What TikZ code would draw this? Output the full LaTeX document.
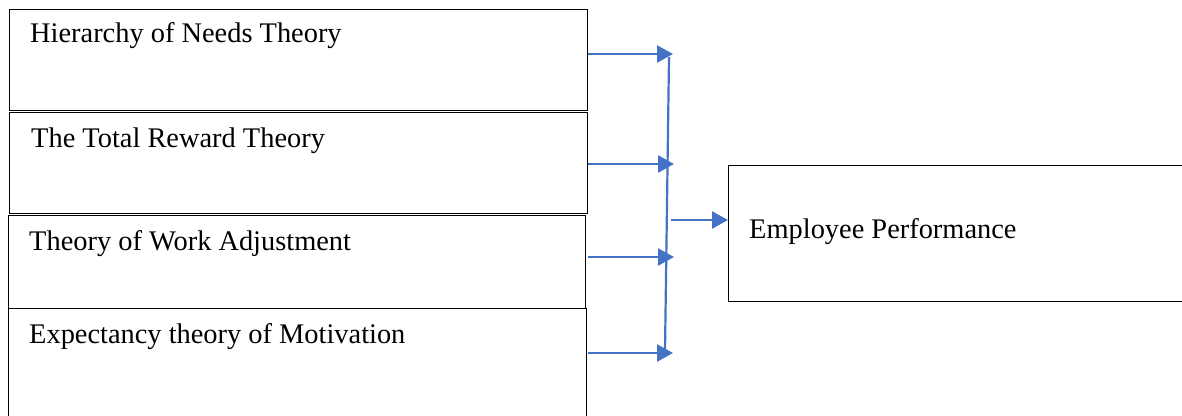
\documentclass[tikz,border=0pt]{standalone}
\usepackage{fontspec}
\setmainfont{Liberation Serif}
\usepackage{xcolor}
\usetikzlibrary{arrows.meta, positioning}

\definecolor{linkblue}{RGB}{68,114,196}

\tikzset{
    theory/.style={draw, line width=1.3pt, anchor=north west, inner sep=0pt, minimum width=578pt},
    lbl/.style={anchor=base west, inner sep=0pt, font=\fontsize{28.4}{31}\selectfont},
    feed/.style={draw=linkblue, line width=2.6pt, -{Triangle[length=16pt, width=17pt]}},
    bus/.style={draw=linkblue, line width=2.2pt}
}

\begin{document}
\begin{tikzpicture}[x=1pt, y=-1pt]
        \useasboundingbox (0,0) rectangle (1182,415);
        \clip (0,0) rectangle (1182,415);

        % theory boxes
        \node[theory, minimum height=101pt] (hier) at (9,9) {};
        \node[theory, minimum height=101pt] (reward) at (9,112) {};
        \node[theory, minimum width=577pt, minimum height=93pt] (work) at (8,215) {};
        \node[theory, minimum height=125pt] (expect) at (8,308) {};
        \node[theory, minimum width=470pt, minimum height=136pt] (perf) at (728,165) {};

        \node[lbl] (hiertext) at (30,42) {Hierarchy of Needs Theory};
        \node[lbl] (rewardtext) at (31,147) {The Total Reward Theory};
        \node[lbl] (worktext) at (29,250) {Theory of Work Adjustment};
        \node[lbl] (expecttext) at (29,343) {Expectancy theory of Motivation};
        \node[lbl] (perftext) at (749,238) {Employee Performance};

        % arrows into the bus
        \coordinate (in1) at (673,54);
        \coordinate (in2) at (674,164);
        \coordinate (in3) at (674,257);
        \coordinate (in4) at (673,353);
        \coordinate (bustop) at (669,57);
        \coordinate (busbot) at (665,351);
        \coordinate (busout) at (671,220);

        \draw[feed] (hier.east |- in1) -- (in1);
        \draw[feed] (reward.east |- in2) -- (in2);
        \draw[feed] (reward.east |- in3) -- (in3);
        \draw[feed] (reward.east |- in4) -- (in4);
        \draw[bus] (bustop) -- (busbot);
        \draw[feed] (busout) -- (perf.west |- busout);
    \end{tikzpicture}
\end{document}
